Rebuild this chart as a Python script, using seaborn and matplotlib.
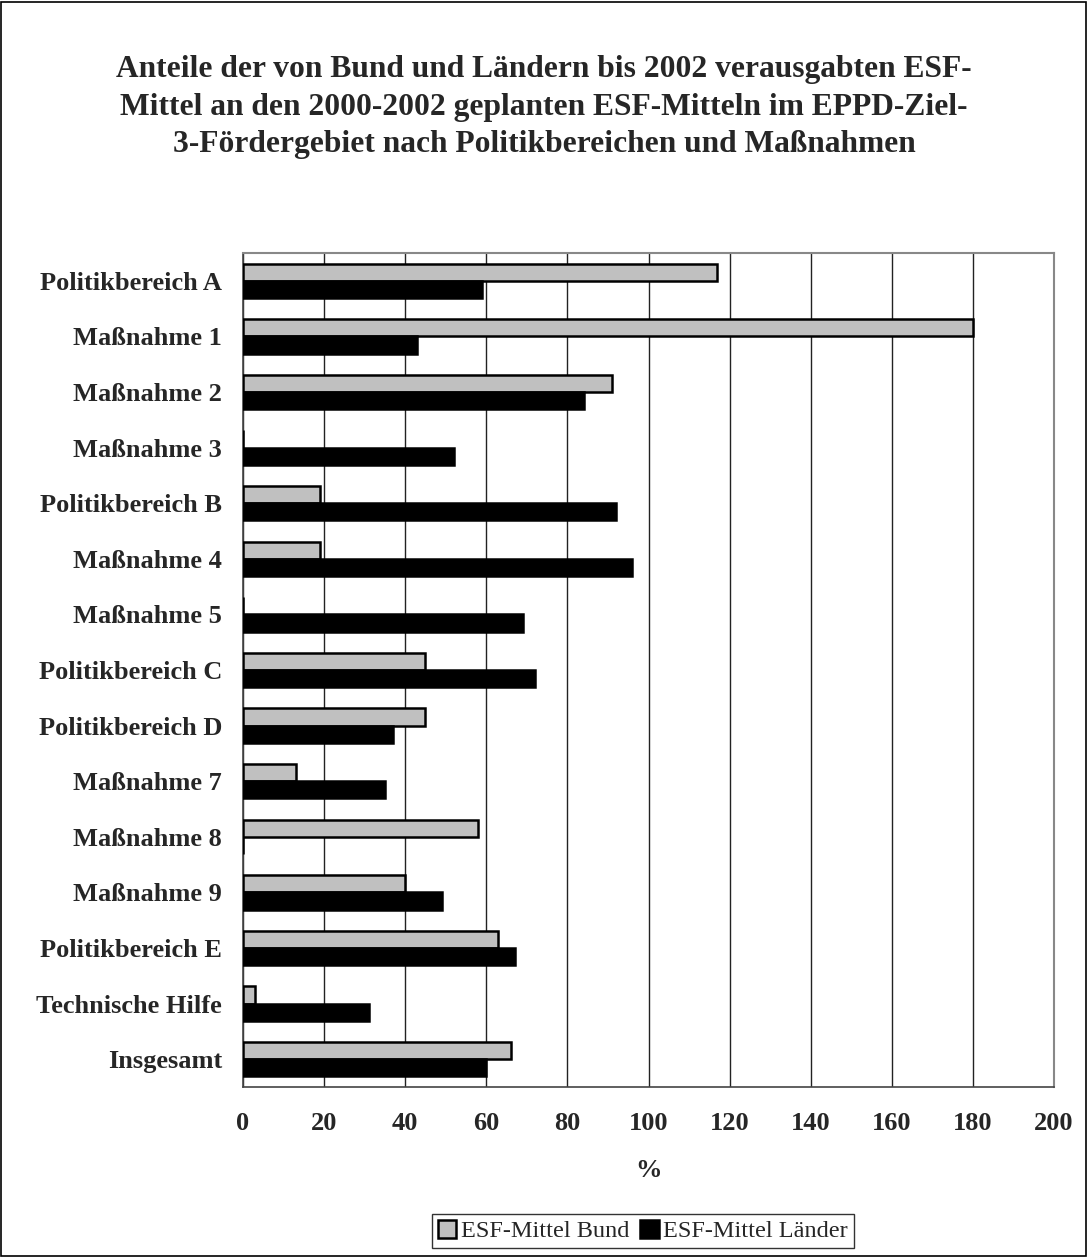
import numpy as np
import pandas as pd
import matplotlib
matplotlib.use("Agg")
import matplotlib.pyplot as plt
import seaborn as sns
from matplotlib.patches import Rectangle

categories = ["Politikbereich A", "Maßnahme 1", "Maßnahme 2", "Maßnahme 3",
              "Politikbereich B", "Maßnahme 4", "Maßnahme 5", "Politikbereich C",
              "Politikbereich D", "Maßnahme 7", "Maßnahme 8", "Maßnahme 9",
              "Politikbereich E", "Technische Hilfe", "Insgesamt"]
bund = [117, 180, 91, 0, 19, 19, 0, 45, 45, 13, 58, 40, 63, 3, 66]
laender = [59, 43, 84, 52, 92, 96, 69, 72, 37, 35, 0, 49, 67, 31, 60]
series_names = ["ESF-Mittel Bund", "ESF-Mittel Länder"]
x_ticks = list(range(0, 201, 20))
title = ("Anteile der von Bund und Ländern bis 2002 verausgabten ESF-\n"
         "Mittel an den 2000-2002 geplanten ESF-Mitteln im EPPD-Ziel-\n"
         "3-Fördergebiet nach Politikbereichen und Maßnahmen")

df = pd.DataFrame({
    "cat": categories * 2,
    "val": bund + laender,
    "series": [series_names[0]] * len(categories) + [series_names[1]] * len(categories),
})

sns.set_theme(style="white")
plt.rcParams["font.family"] = ["Liberation Serif", "DejaVu Serif"]

W, H = 1088, 1257
fig = plt.figure(figsize=(W / 100, H / 100), dpi=100)
ax = fig.add_axes([243 / W, 1 - 1087 / H, (1054 - 243) / W, (1087 - 253) / H])

sns.barplot(data=df, y="cat", x="val", hue="series", order=categories,
            hue_order=series_names, palette=["#C0C0C0", "#000000"],
            orient="h", width=0.62, gap=0, edgecolor="black", linewidth=1.8,
            ax=ax, legend=True, zorder=3)

ax.set_xlim(0, 200)
ax.set_ylim(len(categories) - 0.5, -0.5)
ax.set_xticks(x_ticks)
ax.set_xticklabels([str(t) for t in x_ticks], fontsize=19, fontweight="bold")
ax.set_yticks(range(len(categories)))
ax.set_yticklabels(categories, fontsize=19, fontweight="bold")
ax.set_yticks(np.arange(-0.5, len(categories), 1), minor=True)
ax.tick_params(axis="y", which="major", length=0, pad=15)
ax.tick_params(axis="y", which="minor", length=6, width=1, color="#333333", direction="out")
ax.tick_params(axis="x", which="major", length=6, width=1, color="#333333", direction="out", pad=12)
ax.set_xlabel("%", fontsize=19, fontweight="bold", labelpad=17)
ax.set_ylabel("")
ax.grid(axis="x", color="#222222", linewidth=1, zorder=0)
ax.set_axisbelow(True)
for s in ["top", "right"]:
    ax.spines[s].set_color("#888888")
    ax.spines[s].set_linewidth(1.5)
for s in ["left", "bottom"]:
    ax.spines[s].set_color("#444444")
    ax.spines[s].set_linewidth(1.2)

fig.text(0.5, 1 - 107 / H, title, ha="center", va="center", fontsize=22.7,
         fontweight="bold", linespacing=1.37)

handles, labels = ax.get_legend_handles_labels()
ax.get_legend().remove()
leg = fig.legend(handles, labels, loc="center", bbox_to_anchor=(643 / W, 1 - 1231 / H),
                 ncol=2, fontsize=17.5, frameon=True, fancybox=False, edgecolor="black",
                 handlelength=0.75, handleheight=0.75, handletextpad=0.2, columnspacing=0.45,
                 borderpad=0.25, borderaxespad=0.0)
leg.get_frame().set_linewidth(1)

fig.patches.append(Rectangle((0.0005, 0.0005), 0.998, 0.998, transform=fig.transFigure,
                             fill=False, edgecolor="black", linewidth=1.2))

fig.savefig("out.png", dpi=100)
